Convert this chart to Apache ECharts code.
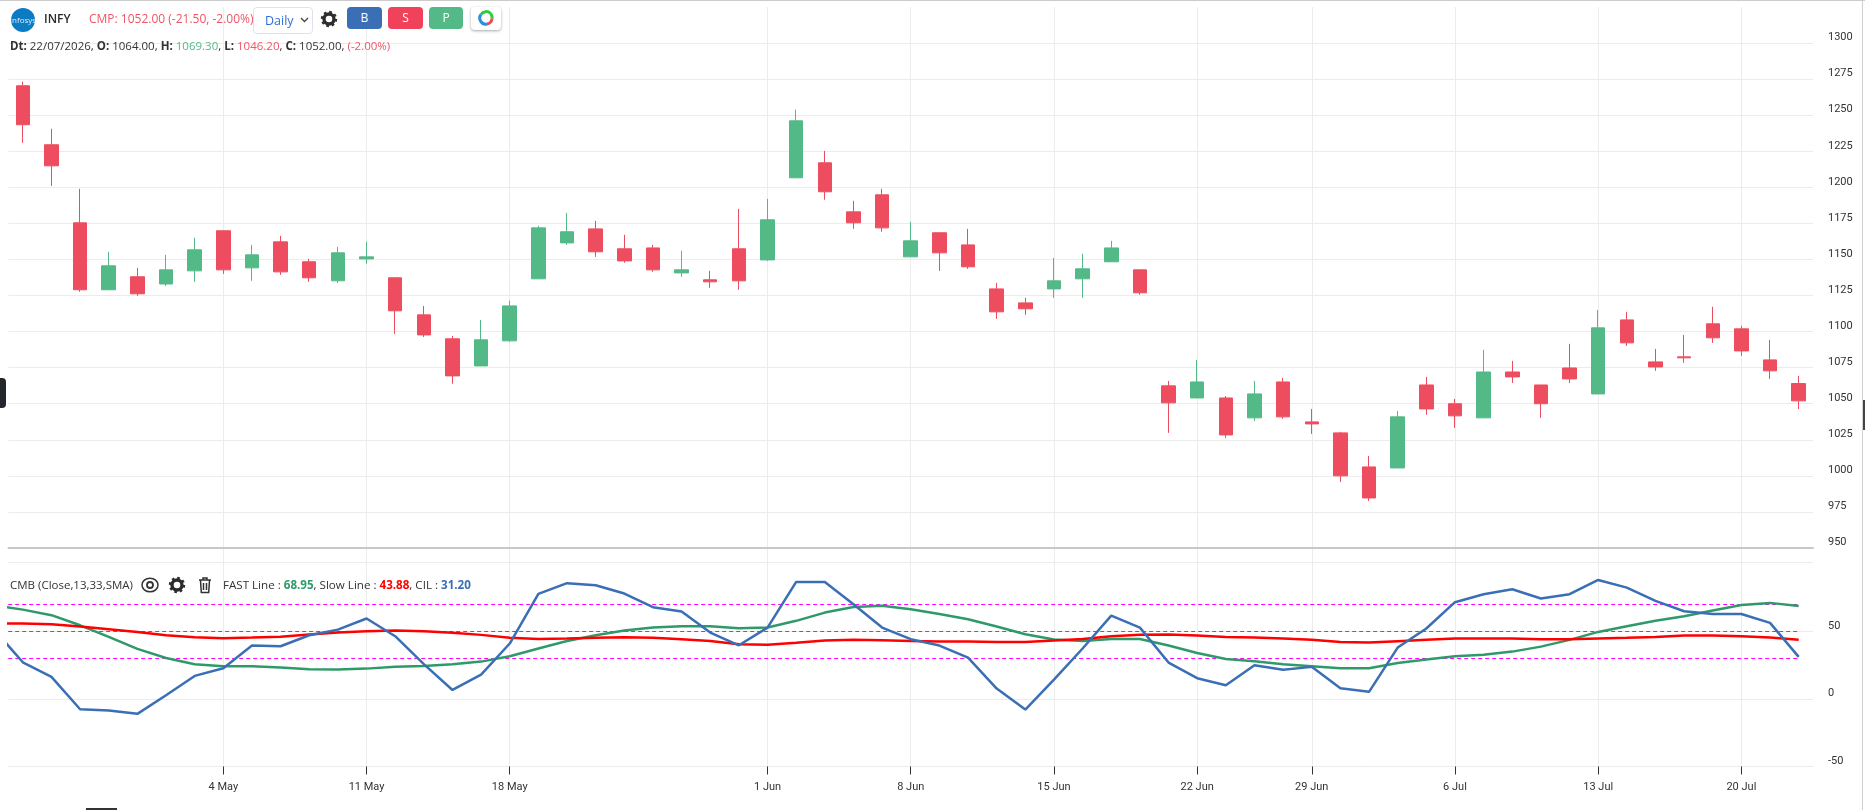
<!DOCTYPE html>
<html><head><meta charset="utf-8">
<script src="https://cdn.jsdelivr.net/npm/echarts@6/dist/echarts.min.js"></script>
<style>
html,body{margin:0;padding:0;background:#fff;overflow:hidden;width:1865px;height:810px;font-family:"Open Sans",sans-serif;color:#333}
#chart{position:absolute;left:0;top:0;width:1865px;height:810px}
.a{position:absolute;white-space:nowrap;line-height:16px}
.btn{position:absolute;top:7px;height:22px;border-radius:4px;color:#fff;font-size:12px;line-height:22px;text-align:center}
.r{color:#ef5566}.g{color:#53b987}
b{font-weight:700}
</style></head><body>
<div id="chart"></div>
<div class="a" style="left:0;top:0;width:1865px;height:1px;background:#ccc"></div>
<div class="a" style="left:1862px;top:0;width:1px;height:810px;background:#d0d0d0"></div>
<div class="a" style="left:1863px;top:400px;width:2px;height:30px;background:#444"></div>
<div class="a" style="left:0;top:378px;width:6px;height:30px;background:#23262b;border-radius:0 4px 4px 0"></div>
<div class="a" style="left:86px;top:808px;width:31px;height:2px;background:#333"></div>
<svg class="a" style="left:11px;top:8px" width="24" height="24"><circle cx="12" cy="12" r="12" fill="#0b7cc4"/><text x="12" y="15" font-size="8" fill="#dfeefa" text-anchor="middle" font-family="Open Sans">Infosys</text></svg>
<div class="a" style="left:44px;top:11px;font-size:12px;font-weight:600;color:#2b2b2b">INFY</div>
<div class="a r" style="left:89px;top:11px;font-size:12px">CMP: 1052.00 (-21.50, -2.00%)</div>
<div class="a" style="left:253px;top:7px;width:58px;height:25px;border:1px solid #dfe2ec;border-radius:4px"></div>
<div class="a" style="left:265px;top:13px;font-size:12.5px;color:#2f6fd6">Daily</div>
<svg class="a" style="left:300px;top:17px" width="9" height="6"><path d="M1 1l3.5 3.5L8 1" fill="none" stroke="#444" stroke-width="1.3"/></svg>
<svg class="a" style="left:320px;top:10px" width="18" height="18" viewBox="0 0 18 18"><circle cx="9" cy="9" r="5" fill="none" stroke="#2d2d2d" stroke-width="3.4"/><circle cx="9" cy="9" r="7" fill="none" stroke="#2d2d2d" stroke-width="2.4" stroke-dasharray="2.6 2.9"/></svg>
<div class="btn" style="left:347px;width:35px;background:#3a6fb5">B</div>
<div class="btn" style="left:388px;width:35px;background:#f0435b">S</div>
<div class="btn" style="left:429px;width:34px;background:#53b987">P</div>
<div class="a" style="left:471px;top:7px;width:30px;height:23px;background:#fff;border-radius:4px;box-shadow:0 1px 3px rgba(0,0,0,.35)"></div>
<svg class="a" style="left:478px;top:10px" width="16" height="16" viewBox="0 0 16 16"><g fill="none" stroke-width="3"><path d="M3 4.5A6 6 0 0 1 12.5 3.5" stroke="#2ecc40"/><path d="M12.5 3.5A6 6 0 0 1 14 8.5" stroke="#2ecc40"/><path d="M14 8.5A6 6 0 0 1 9 14" stroke="#f04a4a"/><path d="M9 14A6 6 0 0 1 3 4.5" stroke="#2b8fe0"/></g></svg>
<div class="a" style="left:10px;top:38px;font-size:11.5px"><b>Dt:</b> 22/07/2026, <b>O:</b> 1064.00, <b>H:</b> <span class="g">1069.30</span>, <b>L:</b> <span class="r">1046.20</span>, <b>C:</b> 1052.00, <span class="r">(-2.00%)</span></div>
<div class="a" style="left:10px;top:577px;font-size:11.5px">CMB (Close,13,33,SMA)</div>
<svg class="a" style="left:141px;top:577px" width="18" height="16" viewBox="0 0 18 16"><ellipse cx="9" cy="8" rx="8" ry="6.8" fill="none" stroke="#333" stroke-width="1.5"/><circle cx="9" cy="8" r="3" fill="none" stroke="#333" stroke-width="1.8"/></svg>
<svg class="a" style="left:168px;top:576px" width="18" height="18" viewBox="0 0 18 18"><circle cx="9" cy="9" r="5" fill="none" stroke="#2d2d2d" stroke-width="3.4"/><circle cx="9" cy="9" r="7" fill="none" stroke="#2d2d2d" stroke-width="2.4" stroke-dasharray="2.6 2.9"/></svg>
<svg class="a" style="left:198px;top:576px" width="14" height="18" viewBox="0 0 14 18"><path d="M1 4h12M5 4V2h4v2M2.5 4.5l.8 12h7.4l.8-12M5.5 7v7M8.5 7v7" fill="none" stroke="#333" stroke-width="1.5"/></svg>
<div class="a" style="left:223px;top:577px;font-size:11.6px">FAST Line : <b style="color:#2e9b6a">68.95</b>, Slow Line : <b style="color:#f00">43.88</b>, CIL : <b style="color:#3a6fb5">31.20</b></div>
<script>
// one hidden lead-in session, then the 63 visible sessions
const categories = ["22 Apr","23 Apr","24 Apr","27 Apr","28 Apr","29 Apr","30 Apr","1 May",
"4 May","5 May","6 May","7 May","8 May","11 May","12 May","13 May","14 May","15 May",
"18 May","19 May","20 May","21 May","22 May","25 May","26 May","27 May","29 May",
"1 Jun","2 Jun","3 Jun","4 Jun","5 Jun","8 Jun","9 Jun","10 Jun","11 Jun","12 Jun",
"15 Jun","16 Jun","17 Jun","18 Jun","19 Jun","22 Jun","23 Jun","24 Jun","25 Jun",
"29 Jun","30 Jun","1 Jul","2 Jul","3 Jul","6 Jul","7 Jul","8 Jul","9 Jul","10 Jul",
"13 Jul","14 Jul","15 Jul","16 Jul","17 Jul","20 Jul","21 Jul","22 Jul"];
const tickLabels = ["4 May","11 May","18 May","1 Jun","8 Jun","15 Jun","22 Jun","29 Jun","6 Jul","13 Jul","20 Jul"];
const opens = [1270.4,1229.5,1175.4,1129,1138,1133,1142.1,1169.9,1144.2,1162.2,1148.4,1135.2,1150.4,1137.3,1111.6,1095,1076.2,1093.6,1136.6,1161.5,1171.2,1157.4,1158,1140.7,1135.9,1157.4,1149.7,1206.6,1217,1183,1194.8,1151.8,1168.5,1160.1,1129.6,1119.9,1129.6,1136.6,1148.4,1142.8,1062.4,1054,1054,1040.2,1065.1,1037.4,1029.8,1006.2,1005.5,1063,1050,1040.2,1072,1063,1074.8,1056.8,1108.1,1079,1082.5,1105.4,1101.9,1080.4,1064];
const closes = [1243.4,1214.9,1129,1145.6,1126.2,1142.8,1156.7,1142.8,1153.2,1141.4,1137.3,1154.6,1151.8,1114.4,1097.7,1069.3,1094.3,1117.8,1171.9,1169.2,1155.3,1149,1142.8,1142.8,1134.5,1135.2,1177.5,1246.1,1196.9,1175.4,1171.9,1162.9,1154.6,1144.9,1113.7,1115.8,1135.2,1143.5,1158,1126.9,1050.6,1065.1,1028.4,1056.8,1040.9,1036,1000,984.7,1040.9,1046.4,1041.6,1072,1068.6,1050,1067.2,1102.6,1092.2,1075.5,1081.8,1095.7,1086.6,1072.8,1052];
const lows = [1230.9,1201,1127.6,1129,1124.8,1131.7,1134.5,1140,1135.2,1139.3,1134.5,1133.8,1147,1098.4,1096.3,1063.8,1076.2,1092.9,1136.6,1160.1,1151.8,1147.7,1141.4,1138,1130.3,1129,1149,1206.6,1191.4,1171.2,1169.2,1151.8,1142.1,1143.5,1108.8,1111.6,1123.4,1123.4,1148.4,1125.5,1029.8,1054,1026.3,1038.1,1039.5,1029.1,995.8,982.6,1005.5,1042.3,1033.3,1040.2,1064.4,1040.2,1064.4,1056.8,1090.1,1072.8,1078.3,1092.2,1083.2,1067.2,1046.2];
const highs = [1273.2,1240.6,1199,1155.3,1144.2,1153.2,1165,1169.9,1160.1,1166.4,1150.4,1158.8,1162.2,1137.3,1117.8,1097,1108.1,1121.5,1173.3,1182.3,1176.8,1167.1,1160.1,1156,1142.1,1185.1,1192,1253.8,1225.3,1190.7,1199,1176.1,1168.5,1171.2,1133.8,1123.4,1151.1,1153.9,1162.9,1142.8,1065.8,1080.4,1055.4,1065.8,1067.9,1046.4,1030.5,1013.8,1045,1068.6,1053.4,1087.3,1079.7,1063,1091.5,1115,1113.7,1088,1097.7,1117.2,1104,1094.3,1069.3];
const fastLine = [69.5,66.2,62.1,54.6,46,37.1,30.4,25.8,24.3,24.3,23.3,22.1,21.8,22.5,23.8,24.5,25.8,27.7,31.7,37.4,43,47.2,50.7,52.9,53.9,53.9,52.4,52.9,57.9,64,68.2,69,66.5,63,59.1,53.7,48,44,43,44.5,44.5,39.6,34.1,29.7,28,25.8,24.3,22.8,22.8,26.7,29.2,31.7,32.7,35.1,38.8,43.8,49.7,53.9,57.9,61.3,65.5,69.7,71.2,68.95];
const slowLine = [55.9,55.9,55.4,53.7,51.7,49.7,47.2,45.8,45,45.5,46.2,47.7,49.2,50.2,50.7,50.2,49,47.5,45.3,44.5,44.8,45.3,45.8,45.3,44.3,43,40.6,40.1,41.6,43.3,43.8,43.5,43,42.5,42.5,42.3,42.3,43.3,44.5,46.5,47.5,47.7,47,46,45.5,44.8,43.8,42.3,41.8,42.8,43.8,44.8,44.8,44.8,44.3,44.3,44.8,45.3,46,47,47,46.5,45.5,43.88];
const cilLine = [51.4,27.2,16.4,-7.6,-8.6,-11,2.8,17.1,22.8,39.6,39.1,47.2,51.4,59.6,46.5,25.8,6.7,18.1,41.1,77.9,85.8,84.3,78.1,68,64.8,49.2,39.8,52.9,86.7,86.7,70.2,52.9,44.3,39.6,30.7,7.7,-7.8,14.4,37.4,61.8,52.9,27,15.4,10.2,25,21.6,23.8,8,5.3,38.1,52.2,71.7,77.6,81.3,74.4,77.6,88.2,82.5,72.7,65,63,63,56.4,31.2];
const levels = [70,50,30];

const RED='#ee4d5f',GREEN='#53b987',GRID='#ececec',FONT='Roboto';
const isTick=(i,name)=>tickLabels.includes(name);
const plain=v=>String(v);
const candles=[null].concat(opens.map((o,i)=>[o,closes[i],lows[i],highs[i]])).map(r=>r||['-','-','-','-']);
const levelSeries=levels.map(v=>({type:'line',xAxisIndex:1,yAxisIndex:1,symbol:'none',silent:true,
  data:[[categories[0],v],[categories[categories.length-1],v]],
  lineStyle:{color:'#ff00ff',width:1,type:[4,3]}}));
const lineS=(data,color,width)=>({type:'line',xAxisIndex:1,yAxisIndex:1,data,symbol:'none',lineStyle:{color,width},clip:true});
const chart=echarts.init(document.getElementById('chart'),null,{renderer:'canvas'});
chart.setOption({
  animation:false,
  backgroundColor:'#fff',
  grid:[{left:8.5,right:52,top:7,height:541},{left:8.5,right:52,top:548,height:218.5}],
  dataZoom:[{type:'inside',xAxisIndex:[0,1],startValue:1,endValue:63,filterMode:'none',zoomLock:true,zoomOnMouseWheel:false,moveOnMouseMove:false,moveOnMouseWheel:false}],
  xAxis:[
   {type:'category',gridIndex:0,data:categories,
    axisLine:{show:true,onZero:false,lineStyle:{color:'#c8c8c8',width:2}},axisTick:{show:false},axisLabel:{show:false},
    splitLine:{show:true,alignWithLabel:true,interval:isTick,lineStyle:{color:GRID,width:1}}},
   {type:'category',gridIndex:1,data:categories,
    axisLine:{show:true,onZero:false,lineStyle:{color:GRID,width:1}},
    axisTick:{show:true,alignWithLabel:true,interval:isTick,length:8,lineStyle:{color:'#333'}},
    axisLabel:{show:true,interval:isTick,margin:15,fontFamily:FONT,fontSize:11,color:'#333'},
    splitLine:{show:true,alignWithLabel:true,interval:isTick,lineStyle:{color:GRID,width:1}}}
  ],
  yAxis:[
   {type:'value',gridIndex:0,position:'right',min:950,max:1325,interval:25,
    axisLine:{show:false},axisTick:{show:false},
    axisLabel:{margin:15,verticalAlign:'bottom',fontFamily:FONT,fontSize:11,color:'#333',showMaxLabel:false,formatter:plain},
    splitLine:{show:true,showMaxLine:false,lineStyle:{color:GRID,width:1}}},
   {type:'value',gridIndex:1,position:'right',min:-50,max:111.85,
    axisLine:{show:false},
    axisTick:{show:false,customValues:[-50,0,50,101]},
    axisLabel:{margin:15,verticalAlign:'bottom',fontFamily:FONT,fontSize:11,color:'#333',customValues:[-50,0,50],formatter:plain},
    splitLine:{show:true,lineStyle:{color:GRID,width:1}}}
  ],
  series:[
   {type:'candlestick',xAxisIndex:0,yAxisIndex:0,data:candles,barWidth:14,
    itemStyle:{color:GREEN,color0:RED,borderColor:GREEN,borderColor0:RED,borderWidth:1}},
   ...levelSeries,
   lineS(fastLine,'#2f9a69',2.5),
   lineS(slowLine,'#ff0000',2.5),
   lineS(cilLine,'#3a6fb5',2.5)
  ]
});
</script>
</body></html>
